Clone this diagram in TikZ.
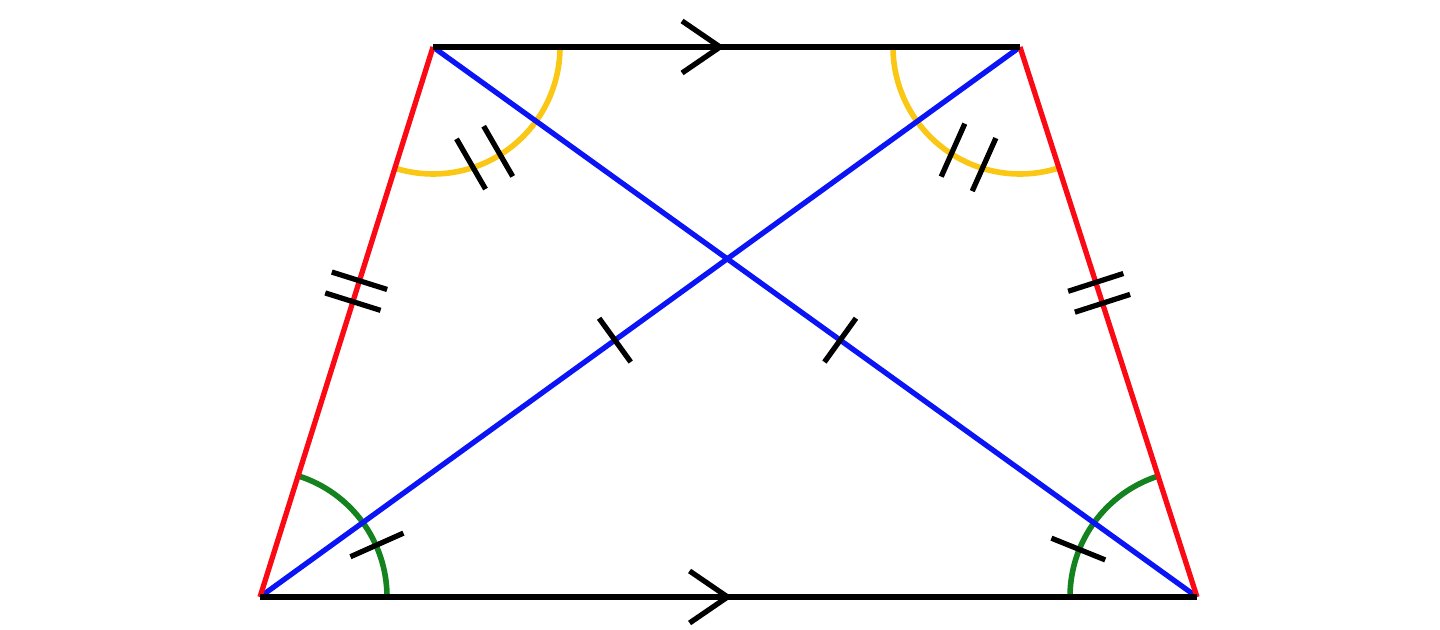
\documentclass[tikz,border=0pt]{standalone}
\usetikzlibrary{calc,angles,arrows.meta,decorations.markings}
\definecolor{legred}{RGB}{250,10,20}
\definecolor{diagblue}{RGB}{10,20,245}
\definecolor{arcgreen}{RGB}{20,130,30}
\definecolor{arcgold}{RGB}{250,200,20}
\tikzset{
  base/.style={line width=1.8pt,draw=black,postaction={decorate},
    decoration={markings,mark=at position #1 with
      {\arrow[line width=1.5pt]{Straight Barb[length=3.8mm,width=5.2mm]}}}},
  base/.default=0.5,
  onetick/.style={postaction={decorate},decoration={markings,
    mark=at position #1 with {\draw[black,line width=1.5pt](0,-0.27)--(0,0.27);}}},
  twoticks/.style={postaction={decorate},decoration={markings,
    mark=at position #1-0.019 with {\draw[black,line width=1.5pt](0,-0.29)--(0,0.29);},
    mark=at position #1+0.019 with {\draw[black,line width=1.5pt](0,-0.29)--(0,0.29);}}},
  marc/.style={draw=#1,line width=1.6pt,angle radius=1.27cm}
}
\begin{document}
\begin{tikzpicture}[line width=1.5pt]
\useasboundingbox (0,0) rectangle (14.4,6.3);
%vertices
\coordinate (A) at (2.60,0.33);
\coordinate (B) at (11.97,0.33);
\coordinate (C) at (10.20,5.83);
\coordinate (D) at (4.33,5.83);
%angle arcs
\pic[marc=arcgreen] {angle=B--A--D};
\pic[marc=arcgreen] {angle=C--B--A};
\pic[marc=arcgold] {angle=D--C--B};
\pic[marc=arcgold] {angle=A--D--C};
%angle ticks
\draw ($(A)+(24:0.99)$)--($(A)+(24:1.57)$);
\draw ($(B)+(158:0.99)$)--($(B)+(158:1.57)$);
\foreach \a in {-58,-72} \draw ($(D)+(\a:1.23)+(-60:-0.29)$)--++(-60:0.58);
\foreach \a in {237,253} \draw ($(C)+(\a:1.23)+(246:-0.29)$)--++(246:0.58);
%diagonals
\draw[diagblue,onetick=0.467] (A)--(C);
\draw[diagblue,onetick=0.533] (D)--(B);
%legs
\draw[legred,twoticks=0.556] (A)--(D);
\draw[legred,twoticks=0.553] (B)--(C);
%parallel sides
\draw[base=0.497] (D)--(C);
\draw[base=0.504] (A)--(B);
\end{tikzpicture}
\end{document}
